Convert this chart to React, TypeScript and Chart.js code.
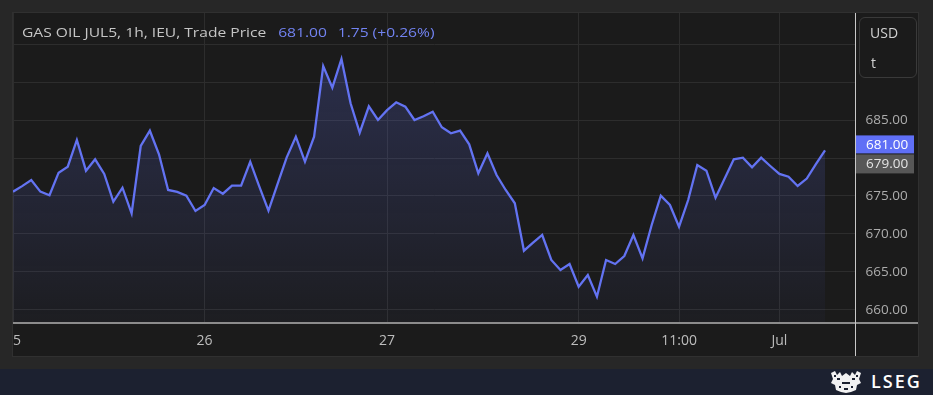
import React, { useEffect, useRef } from 'react';
import { Chart, registerables } from 'chart.js';

Chart.register(...registerables);

// ---- data ----
const PRICES: number[] = [
  675.57, 676.3, 677.1, 675.57, 675.1, 678.07, 678.86, 682.37, 678.33, 679.83,
  677.9, 674.25, 676.09, 672.72, 681.58, 683.59, 680.49, 675.79, 675.53, 675.04,
  673.03, 673.82, 676.05, 675.3, 676.36, 676.36, 679.51, 676.22, 673.07, 676.6,
  680.09, 682.8, 679.51, 682.8, 692.1, 689.25, 693.03, 687.2, 683.33, 686.8,
  685.0, 686.3, 687.33, 686.75, 685.0, 685.5, 686.1, 684.04, 683.25, 683.6,
  681.8, 677.99, 680.62, 677.76, 675.79, 674.04, 667.8, 668.86, 669.87, 666.58,
  665.26, 666.05, 663.07, 664.6, 661.75, 666.58, 666.05, 667.1, 669.87, 666.8,
  671.18, 675.04, 673.82, 670.96, 674.47, 679.08, 678.33, 674.78, 677.3, 679.83,
  680.04, 678.78, 680.04, 678.95, 677.9, 677.54, 676.32, 677.3, 679.2, 681.0,
];
const X_TICK_POS: number[] = [0, 21, 41, 62, 73, 84];
const X_TICK_LABELS: string[] = ['25', '26', '27', '29', '11:00', 'Jul'];
const Y_GRID: number[] = [660, 665, 670, 675, 680, 685, 690, 695];
const Y_LABELLED: number[] = [660, 665, 670, 675, 685];
const LAST_PRICE = 681.0;
const MARK_PRICE = 679.0;
const TITLE = 'GAS OIL JUL5, 1h, IEU, Trade Price';
const TITLE_PRICE = '681.00';
const TITLE_CHANGE = '1.75 (+0.26%)';

const FONT = '"Open Sans", "Noto Sans", sans-serif';
const LINE = '#6373f2';

const zeroPad = (s: any) => {
  s.paddingLeft = 0;
  s.paddingRight = 0;
  s.paddingTop = 0;
  s.paddingBottom = 0;
};

const framePlugin = {
  id: 'frameAndPrices',
  afterDraw(chart: any) {
    const { ctx, chartArea, width, height } = chart;
    const y = chart.scales.y;
    ctx.save();
    // axis frame lines
    ctx.fillStyle = '#8c8c8c';
    ctx.fillRect(0, Math.round(chartArea.bottom), width, 2);
    ctx.fillStyle = '#c9c9c9';
    ctx.fillRect(Math.floor(chartArea.right), 0, 1, height);
    // price boxes
    const x0 = Math.floor(chartArea.right) + 1;
    const w = 58;
    const yLast = y.getPixelForValue(LAST_PRICE);
    const blueTop = yLast - 15;
    ctx.fillStyle = '#5f6ff6';
    ctx.fillRect(x0, blueTop, w, 18);
    const grayTop = blueTop + 19;
    ctx.fillStyle = '#575757';
    ctx.fillRect(x0, grayTop, w, 19);
    ctx.font = `13.5px ${FONT}`;
    ctx.textBaseline = 'middle';
    ctx.textAlign = 'left';
    ctx.fillStyle = '#ffffff';
    ctx.fillText(LAST_PRICE.toFixed(2), x0 + 10, blueTop + 9.5);
    ctx.fillStyle = '#e4e4e4';
    ctx.fillText(MARK_PRICE.toFixed(2), x0 + 10, grayTop + 10);
    ctx.restore();
  },
};

function Crest() {
  return (
    <svg width="34" height="24" viewBox="0 0 34 24" style={{ position: 'absolute', left: 829, top: 1 }}>
      <g fill="#f2f2f2">
        <path d="M2 3 L6 1 L8 5 L11 2 L13 6 L17 3 L21 6 L23 2 L26 5 L28 1 L32 3 L30 9 L32 13 L28 15 L27 20 L22 22 L17 23 L12 22 L7 20 L6 15 L2 13 L4 9 Z" />
      </g>
      <g fill="#1c2130">
        <rect x="8" y="8" width="3" height="2" />
        <rect x="23" y="8" width="3" height="2" />
        <rect x="13" y="12" width="8" height="2" />
        <rect x="10" y="16" width="2" height="2" />
        <rect x="22" y="16" width="2" height="2" />
        <rect x="15" y="18" width="4" height="2" />
        <rect x="5" y="5" width="2" height="2" />
        <rect x="27" y="5" width="2" height="2" />
      </g>
    </svg>
  );
}

export default function App() {
  const canvasRef = useRef<HTMLCanvasElement | null>(null);

  useEffect(() => {
    if (!canvasRef.current) return;
    const chart = new Chart(canvasRef.current, {
      type: 'line',
      data: {
        datasets: [
          {
            data: PRICES.map((v, i) => ({ x: i, y: v })),
            borderColor: LINE,
            borderWidth: 2.3,
            pointRadius: 0,
            tension: 0,
            fill: 'start',
            backgroundColor: (c: any) => {
              const { chart: ch } = c;
              const area = ch.chartArea;
              if (!area) return 'rgba(99,115,242,0.1)';
              const g = ch.ctx.createLinearGradient(0, area.top, 0, area.bottom);
              g.addColorStop(0, 'rgba(99,115,242,0.26)');
              g.addColorStop(1, 'rgba(99,115,242,0.03)');
              return g;
            },
          },
        ],
      },
      options: {
        animation: false,
        responsive: false,
        maintainAspectRatio: false,
        layout: { padding: 0, autoPadding: false } as any,
        plugins: {
          legend: { display: false },
          tooltip: { enabled: false },
          title: { display: false },
        },
        scales: {
          x: {
            type: 'linear',
            min: 0,
            max: 92.34,
            afterBuildTicks: (s: any) => {
              s.ticks = X_TICK_POS.map((v) => ({ value: v }));
            },
            afterFit: (s: any) => {
              s.height = 34;
              zeroPad(s);
            },
            grid: { color: '#2d2d2d', drawTicks: false },
            border: { display: false },
            ticks: {
              color: '#bdbdbd',
              font: { family: FONT, size: 14 },
              padding: 11,
              autoSkip: false,
              maxRotation: 0,
              callback: (v: any) => {
                const i = X_TICK_POS.indexOf(Number(v));
                return i >= 0 ? X_TICK_LABELS[i] : '';
              },
            },
          },
          y: {
            position: 'right',
            min: 658.42,
            max: 699.08,
            afterBuildTicks: (s: any) => {
              s.ticks = Y_GRID.map((v) => ({ value: v }));
            },
            afterFit: (s: any) => {
              s.width = 62.5;
              zeroPad(s);
            },
            grid: { color: '#2d2d2d', drawTicks: false },
            border: { display: false },
            ticks: {
              color: '#adadad',
              font: { family: FONT, size: 13.5 },
              padding: 10,
              callback: (v: any) => (Y_LABELLED.indexOf(Number(v)) >= 0 ? Number(v).toFixed(2) : ''),
            },
          },
        },
      },
      plugins: [framePlugin],
    });
    return () => chart.destroy();
  }, []);

  return (
    <div
      style={{
        position: 'fixed',
        left: 0,
        top: 0,
        width: 933,
        height: 395,
        background: '#272727',
        overflow: 'hidden',
        fontFamily: FONT,
      }}
    >
      <div
        style={{
          position: 'absolute',
          left: 12,
          top: 12,
          width: 907,
          height: 345,
          boxSizing: 'border-box',
          border: '1px solid #303030',
          background: '#1b1b1b',
        }}
      />
      <canvas
        ref={canvasRef}
        width={905}
        height={343}
        style={{ position: 'absolute', left: 13, top: 13, width: 905, height: 343 }}
      />
      <div
        style={{
          position: 'absolute',
          left: 22,
          top: 23,
          fontSize: 13,
          lineHeight: '18px',
          whiteSpace: 'nowrap',
          color: '#c6c6c6',
          transform: 'scaleX(1.2)',
          transformOrigin: 'left center',
        }}
      >
        <span>{TITLE}</span>
        <span style={{ color: '#7283f2', marginLeft: 10 }}>{TITLE_PRICE}</span>
        <span style={{ color: '#7283f2', marginLeft: 9 }}>{TITLE_CHANGE}</span>
      </div>
      <div
        style={{
          position: 'absolute',
          left: 859,
          top: 17,
          width: 58,
          height: 61,
          boxSizing: 'border-box',
          border: '1px solid #3a3a3a',
          borderRadius: 6,
          color: '#d2d2d2',
          fontSize: 14,
        }}
      >
        <div style={{ position: 'absolute', left: 10, top: 5 }}>USD</div>
        <div style={{ position: 'absolute', left: 11, top: 35 }}>t</div>
      </div>
      <div
        style={{
          position: 'absolute',
          left: 0,
          top: 369,
          width: 933,
          height: 26,
          background: '#1c2130',
        }}
      >
        <Crest />
        <div
          style={{
            position: 'absolute',
            left: 871,
            top: 0,
            color: '#ffffff',
            fontSize: 18,
            fontWeight: 600,
            letterSpacing: 2,
            fontFamily: '"Open Sans", sans-serif',
          }}
        >
          LSEG
        </div>
      </div>
    </div>
  );
}
